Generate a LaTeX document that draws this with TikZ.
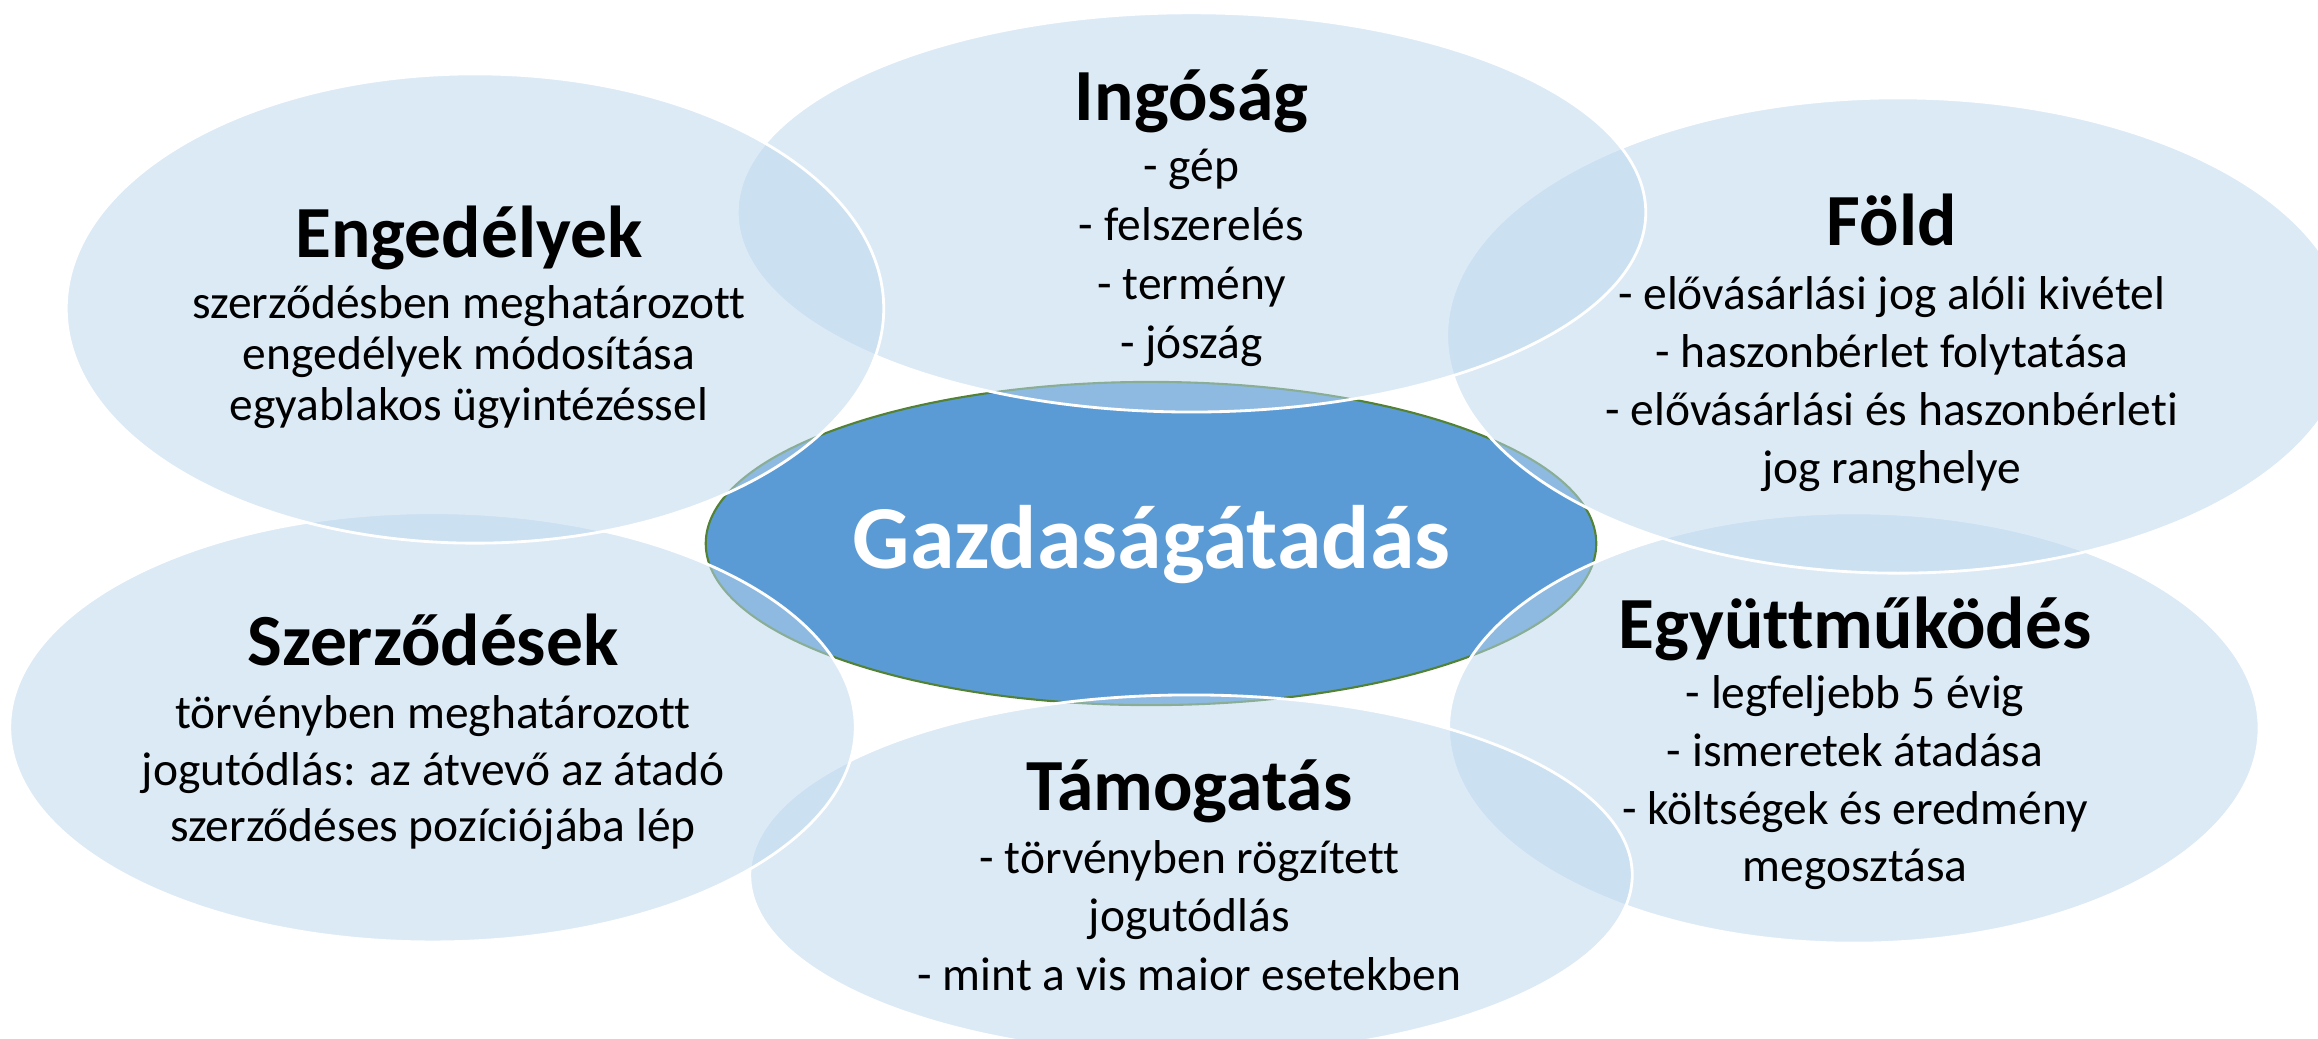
\documentclass[tikz,border=0pt]{standalone}
\usepackage{fontspec}
\setmainfont{Carlito}[Ligatures=NoCommon]
\usepackage{tikz}
\usetikzlibrary{shapes.geometric, positioning}
\definecolor{lightblue}{HTML}{BDD7EE}
\definecolor{midblue}{HTML}{5B9BD5}
\definecolor{darkgreen}{HTML}{548235}
\tikzstyle{bubble} = [ellipse, inner sep=0pt, draw=white, line width=0.8pt, fill=lightblue, fill opacity=0.52]
\tikzstyle{hub} = [ellipse, inner sep=0pt, draw=darkgreen, line width=0.6pt, fill=midblue]
\tikzstyle{ttl} = [anchor=base, inner sep=0pt, font=\fontsize{20.9}{25}\selectfont\bfseries]
\tikzstyle{body} = [anchor=base, inner sep=0pt, align=center]

\begin{document}
\begin{tikzpicture}[x=0.01cm, y=-0.01cm]

    \path [use as bounding box, fill=white] (0, 0) rectangle (2318, 1038);
    \clip (0, 0) rectangle (2318, 1038);

    \node (hubell) [hub, minimum width=8.90cm, minimum height=3.23cm] at (1151, 543.5) {};
    \node (egyell) [bubble, minimum width=8.10cm, minimum height=4.30cm] at (1853.8, 728) {};
    \node (foldell) [bubble, minimum width=9.02cm, minimum height=4.75cm] at (1898, 335.5) {};
    \node (ingoell) [bubble, minimum width=9.08cm, minimum height=3.99cm] at (1191.5, 212.4) {};
    \node (tamell) [bubble, minimum width=8.82cm, minimum height=3.60cm] at (1191, 875) {};
    \node (szerzell) [bubble, minimum width=8.45cm, minimum height=4.29cm] at (432.5, 727.3) {};
    \node (engedell) [bubble, minimum width=8.17cm, minimum height=4.69cm] at (475, 308.5) {};

    \node (hubtxt) [anchor=base, inner sep=0pt, text=white, font=\fontsize{25.6}{30}\selectfont\bfseries] at (1151.5, 568.3) {Gazdaságátadás};

    \node (ingottl) [ttl] at (1191.5, 120) {Ingóság};
    \node (ingotxt) [body, font=\fontsize{13.5}{16.8}\selectfont] at (1191.5, 358.3) {- gép\\ - felszerelés\\ - termény\\ - jószág};

    \node (engedttl) [ttl] at (469, 257.3) {Engedélyek};
    \node (engedtxt) [body, font=\fontsize{13.5}{14.6}\selectfont] at (469, 420.7) {szerződésben meghatározott\\ engedélyek módosítása\\ egyablakos ügyintézéssel};

    \node (foldttl) [ttl] at (1891.7, 245.7) {Föld};
    \node (foldtxt) [body, font=\fontsize{13.5}{16.5}\selectfont] at (1891.7, 483.5) {- elővásárlási jog alóli kivétel\\ - haszonbérlet folytatása\\ - elővásárlási és haszonbérleti\\ jog ranghelye};

    \node (szerzttl) [ttl] at (433, 665) {Szerződések};
    \node (szerztxt) [body, font=\fontsize{13.5}{16.1}\selectfont] at (433, 841.7) {törvényben meghatározott\\ jogutódlás: az átvevő az átadó\\ szerződéses pozíciójába lép};

    \node (egyttl) [ttl] at (1855, 648.3) {Együttműködés};
    \node (egytxt) [body, font=\fontsize{13.5}{16.4}\selectfont] at (1855, 881.7) {- legfeljebb 5 évig\\ - ismeretek átadása\\ - költségek és eredmény\\ megosztása};

    \node (tamttl) [ttl] at (1189.4, 810) {Támogatás};
    \node (tamtxt) [body, font=\fontsize{13.5}{16.6}\selectfont] at (1189.4, 990) {- törvényben rögzített\\ jogutódlás\\ - mint a vis maior esetekben};

\end{tikzpicture}
\end{document}
